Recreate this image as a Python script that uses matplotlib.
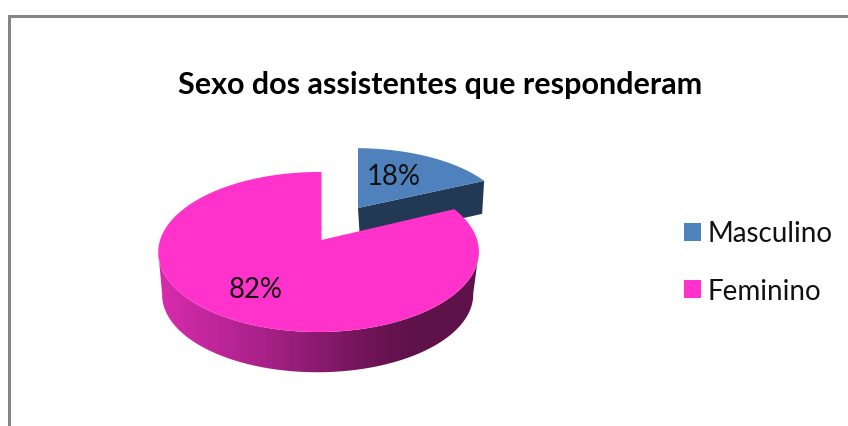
import numpy as np
import matplotlib
matplotlib.use("Agg")
from matplotlib import pyplot as plt
from matplotlib.colors import LinearSegmentedColormap
from matplotlib.patches import Patch, Polygon

labels = ['Masculino', 'Feminino']
percents = [18, 82]
colors = ['#4F81BD', '#FF33CC']
title = 'Sexo dos assistentes que responderam'

plt.rcParams['font.family'] = ['Lato', 'DejaVu Sans']

fig = plt.figure(figsize=(8.48, 4.27), dpi=100)
ax = fig.add_axes([0, 0, 1, 1])
ax.set_xlim(0, 848)
ax.set_ylim(427, 0)
ax.axis('off')


# angle is clockwise from 12 o'clock, tilted disc drawn in perspective
def project(angle, x0, y0, sx=1.0, sy=1.0):
    u = np.sin(angle)
    v = np.cos(angle)
    w = 1 + 0.15 * v + 0.018 * u
    return x0 + sx * 158.5 * u / w, y0 - sy * 78.2 * v / w


def face(a0, a1, x0, y0, sx=1.0, sy=1.0):
    t = np.linspace(a0, a1, 200)
    x, y = project(t, x0, y0, sx, sy)
    return np.column_stack([np.r_[x0, x], np.r_[y0, y]])


split = 2 * np.pi * percents[0] / sum(percents)

# exploded slice
blue_x, blue_y = 358, 209
bx, by = project(split, blue_x, blue_y, 0.95, 0.88)
ax.add_patch(Polygon([(blue_x, blue_y), (bx, by), (bx - 2, by + 33), (blue_x + 2, blue_y + 33)],
                     fc='#213955', ec='none', zorder=2))
ax.add_patch(Polygon(face(0, split, blue_x, blue_y, 0.95, 0.88), fc=colors[0], ec='none', zorder=3))

# side wall of the big slice, dark towards the right
x0, y0 = 321.5, 241
t = np.radians(np.linspace(98, 262, 200))
xt, yt = project(t, x0, y0)
xb, yb = project(t, x0 - 1, y0 + 43, 0.97, 0.97)
wall = Polygon(np.column_stack([np.r_[xt, xb[::-1]], np.r_[yt, yb[::-1]]]), fc='none', ec='none')
ax.add_patch(wall)
cmap = LinearSegmentedColormap.from_list('wall', [(0, '#D82CAE'), (0.28, '#B0238F'),
                                                  (0.68, '#6C1455'), (0.8, '#5F114A'), (1, '#5F114A')])
img = ax.imshow(np.linspace(0, 1, 256).reshape(1, -1), cmap=cmap, extent=(158, 478, 380, 240),
                aspect='auto', zorder=4)
img.set_clip_path(wall)
ax.set_xlim(0, 848)
ax.set_ylim(427, 0)

ax.add_patch(Polygon(face(split, 2 * np.pi, x0, y0), fc=colors[1], ec='none', zorder=5))

ax.text(394, 177, f'{percents[0]}%', fontsize=19.8, ha='center', va='center', color='#111111', zorder=6)
ax.text(256, 290, f'{percents[1]}%', fontsize=19.8, ha='center', va='center', color='#111111', zorder=6)

ax.text(440.5, 85, title, fontsize=22, fontweight='bold', ha='center', va='center', color='black')

# chart frame, runs off the right and bottom
ax.plot([9, 9, 848], [427, 17, 17], color='#868686', lw=2.2, solid_joinstyle='miter')

handles = [Patch(fc=c, ec='none') for c in colors]
ax.legend(handles, labels, loc='center left', bbox_to_anchor=(684 / 848, 1 - 263 / 427), frameon=False,
          fontsize=20, handlelength=0.61, handleheight=0.61, handletextpad=0.25, labelspacing=1.12,
          borderaxespad=0, borderpad=0, labelcolor='#111111')

fig.savefig('out.png', dpi=100)
